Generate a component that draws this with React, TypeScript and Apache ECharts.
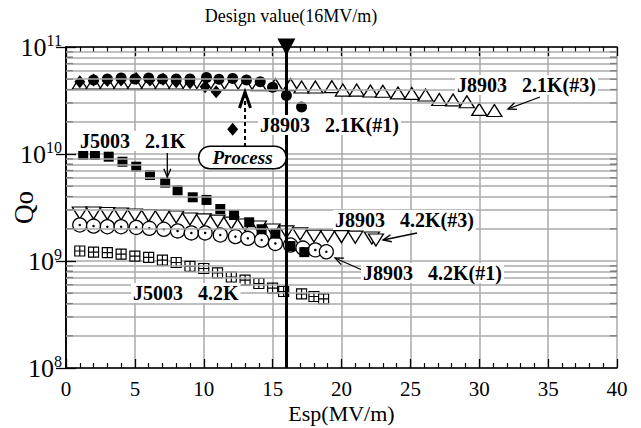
import React, { useEffect, useRef } from "react";
import * as echarts from "echarts";

const FONT = '"Liberation Serif", "Times New Roman", serif';

// Axes
const xMin = 0;
const xMax = 40;
const xStep = 5;
const yMin = 1e8;
const yMax = 1e11;
const gridDecades = [8, 9, 10];
const gridMultipliers = [2, 3, 4, 5, 6, 7, 8, 9];
const designField = 16;

// J8903 2.1K(#3) — open up-triangles
const j8903_21_3_x = [1, 2, 3, 4, 5, 6, 7, 8, 9, 10, 11, 12, 13, 14, 15.2, 16.3, 17.1, 18.1, 19.3, 20.1, 21.1, 22.1, 23.0, 24.1, 25.1, 26.1, 27.1, 28.1, 29.1, 30.0, 31.1];
const j8903_21_3_q = [4.6e10, 4.6e10, 4.6e10, 4.6e10, 4.6e10, 4.6e10, 4.6e10, 4.6e10, 4.55e10, 4.55e10, 4.5e10, 4.5e10, 4.5e10, 4.45e10, 4.45e10, 4.45e10, 4.23e10, 4.23e10, 4.26e10, 3.96e10, 3.96e10, 3.88e10, 3.86e10, 3.72e10, 3.68e10, 3.56e10, 3.23e10, 3.2e10, 3.08e10, 2.61e10, 2.55e10];

// J8903 2.1K(#1) — filled circles
const j8903_21_1_x = [2, 3, 4, 5, 6, 7, 8, 9, 10.2, 11.1, 12.1, 13.1, 14.1, 15, 16, 17.1];
const j8903_21_1_q = [4.92e10, 5.02e10, 5.13e10, 5.02e10, 5.13e10, 5.02e10, 5.02e10, 5.02e10, 5.19e10, 4.99e10, 5.08e10, 4.92e10, 4.74e10, 4.2e10, 3.52e10, 2.75e10];

// Filled diamonds (before process)
const diamond_x = [1, 2, 3, 4, 5.1, 6.1, 7.05, 8, 9, 10.1, 10.9, 12.1];
const diamond_q = [4.74e10, 4.92e10, 4.87e10, 4.92e10, 5.09e10, 4.92e10, 4.99e10, 4.74e10, 4.63e10, 4.26e10, 3.82e10, 1.7e10];

// J5003 2.1K — filled squares
const j5003_21_x = [1.25, 2.1, 3.1, 4.1, 5.1, 6.1, 7.2, 8.1, 9.2, 10.2, 11.2, 12.2, 13.3, 14.2, 15.2, 16.3, 17.3];
const j5003_21_q = [9.8e9, 9.8e9, 9.44e9, 8.47e9, 7.61e9, 6.36e9, 5.4e9, 4.58e9, 3.94e9, 3.72e9, 3.06e9, 2.69e9, 2.3e9, 1.98e9, 1.8e9, 1.38e9, 1.21e9];

// J8903 4.2K(#3) — open down-triangles
const j8903_42_3_x = [1, 2, 3, 4, 5, 6, 7, 8, 9, 10, 11, 12, 13, 14, 15, 16, 17, 18, 19, 20, 21, 22.2, 22.5];
const j8903_42_3_q = [2.81e9, 2.81e9, 2.78e9, 2.75e9, 2.69e9, 2.66e9, 2.63e9, 2.58e9, 2.47e9, 2.42e9, 2.36e9, 2.26e9, 2.17e9, 2.08e9, 1.95e9, 1.87e9, 1.79e9, 1.71e9, 1.71e9, 1.69e9, 1.67e9, 1.64e9, 1.57e9];

// J8903 4.2K(#1) — open circles with a dot
const j8903_42_1_x = [1, 2, 3, 4, 5.1, 6.05, 7.1, 8.1, 9.1, 10.1, 11.2, 12.3, 13.2, 14.2, 15.2, 16.3, 17.2, 18.1, 18.9];
const j8903_42_1_q = [2.17e9, 2.12e9, 2.09e9, 2.09e9, 2.06e9, 2.02e9, 1.98e9, 1.91e9, 1.83e9, 1.83e9, 1.75e9, 1.69e9, 1.63e9, 1.57e9, 1.46e9, 1.41e9, 1.32e9, 1.27e9, 1.22e9];

// J5003 4.2K — squares with a cross
const j5003_42_x = [1, 2, 3, 4, 5, 6, 7, 8, 9, 10, 11, 12, 13, 14, 15, 15.8, 17.1, 18, 18.7];
const j5003_42_q = [1.24e9, 1.21e9, 1.2e9, 1.16e9, 1.11e9, 1.08e9, 1.02e9, 9.68e8, 8.89e8, 8.51e8, 7.73e8, 7.09e8, 6.64e8, 6.16e8, 5.59e8, 5.19e8, 4.92e8, 4.66e8, 4.42e8];

const zip = (xs: number[], ys: number[]) => xs.map((x, i) => [x, ys[i]]);

const minorValues: number[] = [];
gridDecades.forEach((d) => gridMultipliers.forEach((m) => minorValues.push(m * Math.pow(10, d))));

const PLUS_SQUARE = "path://M0,0L10,0L10,10L0,10Z M5,0L5,10 M0,5L10,5";

function arrow(x1: number, y1: number, x2: number, y2: number, head = 9, spread = 0.4, width = 1.3) {
  const a = Math.atan2(y2 - y1, x2 - x1);
  const p1 = [x2 - head * Math.cos(a - spread), y2 - head * Math.sin(a - spread)];
  const p2 = [x2 - head * Math.cos(a + spread), y2 - head * Math.sin(a + spread)];
  return [
    { type: "line", z: 100, shape: { x1, y1, x2, y2 }, style: { stroke: "#000", lineWidth: width } },
    { type: "polyline", z: 100, shape: { points: [p1, [x2, y2], p2] }, style: { stroke: "#000", lineWidth: width, fill: null } },
  ];
}

function label(text: string, x: number, y: number) {
  return {
    type: "text",
    z: 101,
    x: x - 2,
    y,
    style: {
      text,
      font: `bold 20px ${FONT}`,
      fill: "#000",
      textAlign: "left",
      textVerticalAlign: "middle",
      backgroundColor: "#fff",
      padding: [0, 2],
    },
  };
}

const SP = "\u00a0\u00a0\u00a0";

export default function App() {
  const ref = useRef<HTMLDivElement>(null);
  useEffect(() => {
    if (!ref.current) return;
    const chart = echarts.init(ref.current, undefined, { renderer: "svg" });
    const openStyle = { color: "#fff", borderColor: "#000", borderWidth: 1.3, opacity: 1 };
    const solidStyle = { color: "#000", borderColor: "#000", borderWidth: 0, opacity: 1 };
    const option: any = {
      animation: false,
      backgroundColor: "#fff",
      grid: { left: 66, right: 24, top: 47, bottom: 60, outerBoundsMode: "none", containLabel: false },
      xAxis: [
        {
          type: "value",
          min: xMin,
          max: xMax,
          interval: xStep,
          position: "bottom",
          name: "Esp(MV/m)",
          nameLocation: "middle",
          nameGap: 34,
          nameMoveOverlap: false,
          nameTextStyle: { fontFamily: FONT, fontSize: 22, color: "#000" },
          axisLine: { lineStyle: { color: "#000", width: 1.5 } },
          axisTick: { inside: true, length: 9, lineStyle: { color: "#000", width: 1.3 } },
          minorTick: { show: true, splitNumber: 5, length: 5, lineStyle: { color: "#000", width: 1.2 } },
          axisLabel: { fontFamily: FONT, fontSize: 21, color: "#000", margin: 10 },
          splitLine: { show: true, lineStyle: { color: "#aaa", width: 1.5 } },
        },
        {
          type: "value",
          min: xMin,
          max: xMax,
          interval: xStep,
          position: "top",
          axisLine: { lineStyle: { color: "#000", width: 1.5 } },
          axisTick: { inside: true, length: 9, lineStyle: { color: "#000", width: 1.3 } },
          minorTick: { show: true, splitNumber: 5, length: 5, lineStyle: { color: "#000", width: 1.2 } },
          axisLabel: { show: false },
          splitLine: { show: false },
        },
      ],
      yAxis: [
        {
          type: "log",
          logBase: 10,
          min: yMin,
          max: yMax,
          position: "left",
          name: "Qo",
          nameLocation: "middle",
          nameGap: 29,
          nameMoveOverlap: false,
          nameRotate: 90,
          nameTextStyle: { fontFamily: FONT, fontSize: 27, color: "#000" },
          axisLine: { lineStyle: { color: "#000", width: 1.5 } },
          axisTick: { inside: true, length: 10, lineStyle: { color: "#000", width: 1.3 } },
          axisLabel: {
            margin: 4,
            formatter: (v: number) => `{b|10}{s|${Math.round(Math.log10(v))}}`,
            rich: {
              b: { fontFamily: FONT, fontSize: 26, color: "#000" },
              s: { fontFamily: FONT, fontSize: 16, color: "#000", verticalAlign: "top", padding: [0, 0, 14, 0] },
            },
          },
          splitLine: { show: true, lineStyle: { color: "#aaa", width: 1.5 } },
        },
        {
          type: "log",
          logBase: 10,
          min: yMin,
          max: yMax,
          position: "right",
          axisLine: { lineStyle: { color: "#000", width: 1.5 } },
          axisTick: { inside: true, length: 10, lineStyle: { color: "#000", width: 1.3 } },
          axisLabel: { show: false },
          splitLine: { show: false },
        },
      ],
      series: [
        {
          type: "scatter",
          name: "grid",
          data: [],
          silent: true,
          markLine: {
            silent: true,
            symbol: "none",
            label: { show: false },
            lineStyle: { color: "#aaa", width: 1.5, type: "solid" },
            data: minorValues.map((v) => ({ yAxis: v })),
          },
        },
        {
          type: "scatter",
          name: "leftMinorTicks",
          silent: true,
          clip: false,
          symbol: "rect",
          symbolSize: [7, 1.3],
          symbolOffset: [3.5, 0],
          itemStyle: { color: "#000", opacity: 1 },
          data: minorValues.map((v) => [xMin, v]),
        },
        {
          type: "scatter",
          name: "rightMinorTicks",
          silent: true,
          clip: false,
          symbol: "rect",
          symbolSize: [7, 1.3],
          symbolOffset: [-3.5, 0],
          itemStyle: { color: "#000", opacity: 1 },
          data: minorValues.map((v) => [xMax, v]),
        },
        {
          type: "scatter",
          name: "J8903 4.2K(#3)",
          symbol: "triangle",
          symbolRotate: 180,
          symbolSize: [15, 12],
          itemStyle: openStyle,
          data: zip(j8903_42_3_x, j8903_42_3_q),
        },
        {
          type: "scatter",
          name: "J8903 4.2K(#1)",
          symbol: "circle",
          symbolSize: 14,
          itemStyle: openStyle,
          data: zip(j8903_42_1_x, j8903_42_1_q),
        },
        {
          type: "scatter",
          name: "J8903 4.2K(#1) dot",
          symbol: "circle",
          symbolSize: 2.5,
          itemStyle: solidStyle,
          data: zip(j8903_42_1_x, j8903_42_1_q),
        },
        {
          type: "scatter",
          name: "J5003 4.2K",
          symbol: PLUS_SQUARE,
          symbolSize: 10,
          itemStyle: { color: "#fff", borderColor: "#000", borderWidth: 1.2, opacity: 1 },
          data: zip(j5003_42_x, j5003_42_q),
        },
        {
          type: "scatter",
          name: "J5003 2.1K",
          symbol: "rect",
          symbolSize: 10,
          itemStyle: solidStyle,
          data: zip(j5003_21_x, j5003_21_q),
        },
        {
          type: "scatter",
          name: "J8903 2.1K(#3)",
          symbol: "triangle",
          symbolSize: [15, 12],
          itemStyle: openStyle,
          data: zip(j8903_21_3_x, j8903_21_3_q),
        },
        {
          type: "scatter",
          name: "diamonds",
          symbol: "diamond",
          symbolSize: [11, 13],
          itemStyle: solidStyle,
          data: zip(diamond_x, diamond_q),
        },
        {
          type: "scatter",
          name: "J8903 2.1K(#1)",
          symbol: "circle",
          symbolSize: 11,
          itemStyle: solidStyle,
          data: zip(j8903_21_1_x, j8903_21_1_q),
        },
        {
          type: "scatter",
          name: "design",
          silent: true,
          clip: false,
          symbol: "triangle",
          symbolRotate: 180,
          symbolSize: [18, 17],
          itemStyle: solidStyle,
          z: 5,
          data: [[designField, yMax]],
          markLine: {
            silent: true,
            symbol: "none",
            label: { show: false },
            lineStyle: { color: "#000", width: 3, type: "solid" },
            data: [{ xAxis: designField }],
          },
        },
      ],
      graphic: [
        {
          type: "text",
          z: 100,
          x: 291,
          y: 16,
          style: {
            text: "Design value(16MV/m)",
            font: `18px ${FONT}`,
            fill: "#000",
            textAlign: "center",
            textVerticalAlign: "middle",
          },
        },
        label(`J5003${SP}2.1K`, 80, 141),
        label(`J8903${SP}2.1K(#1)`, 260, 125),
        label(`J8903${SP}2.1K(#3)`, 457, 85),
        label(`J8903${SP}4.2K(#3)`, 335, 220),
        label(`J8903${SP}4.2K(#1)`, 363, 273),
        label(`J5003${SP}4.2K`, 133, 293),
        ...arrow(167.3, 153, 167.3, 177),
        ...arrow(540, 97, 508, 109),
        ...arrow(417, 233, 383, 240),
        ...arrow(362, 270, 335, 258),
        {
          type: "line",
          z: 100,
          shape: { x1: 245, y1: 147, x2: 245, y2: 96 },
          style: { stroke: "#000", lineWidth: 2, lineDash: [4, 3] },
        },
        {
          type: "polyline",
          z: 100,
          shape: { points: [[239.5, 108], [245, 92], [250.5, 108]] },
          style: { stroke: "#000", lineWidth: 3, fill: null },
        },
        {
          type: "text",
          z: 101,
          x: 242.5,
          y: 157.5,
          style: {
            text: "Process",
            font: `italic bold 19px ${FONT}`,
            fill: "#000",
            textAlign: "center",
            textVerticalAlign: "middle",
            backgroundColor: "#fff",
            borderColor: "#000",
            borderWidth: 1.5,
            borderRadius: 11,
            padding: [1, 13],
          },
        },
      ],
    };
    chart.setOption(option);
    return () => chart.dispose();
  }, []);
  return (
    <div
      ref={ref}
      style={{ position: "fixed", left: 0, top: 0, width: 641, height: 428, background: "#fff" }}
    />
  );
}
